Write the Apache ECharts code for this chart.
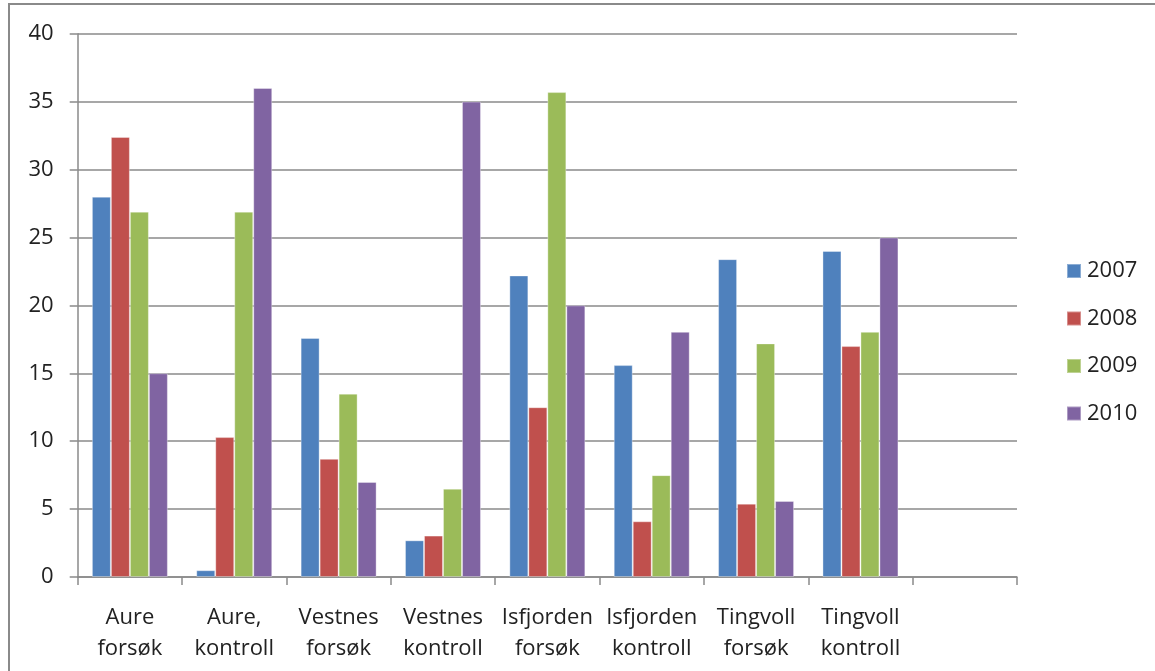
<!DOCTYPE html>
<html>
<head>
<meta charset="utf-8">
<script src="https://cdn.jsdelivr.net/npm/echarts@6/dist/echarts.min.js"></script>
<style>
html,body{margin:0;padding:0;background:#fff;}
#chart{width:1155px;height:671px;}
</style>
</head>
<body>
<div id="chart"></div>
<script>
const categories = ['Aure\nforsøk', 'Aure,\nkontroll', 'Vestnes\nforsøk', 'Vestnes\nkontroll', 'Isfjorden\nforsøk', 'Isfjorden\nkontroll', 'Tingvoll\nforsøk', 'Tingvoll\nkontroll', ''];
const seriesNames = ['2007', '2008', '2009', '2010'];
const v2007 = [28, 0.5, 17.6, 2.7, 22.2, 15.6, 23.4, 24.0, null];
const v2008 = [32.4, 10.3, 8.7, 3.05, 12.5, 4.1, 5.4, 17.0, null];
const v2009 = [26.9, 26.9, 13.5, 6.5, 35.7, 7.5, 17.2, 18.05, null];
const v2010 = [15.0, 36.0, 7.0, 35.0, 20.0, 18.05, 5.6, 25.0, null];
const yTicks = [0, 5, 10, 15, 20, 25, 30, 35, 40];
const colors = ['#4F81BD', '#C0504D', '#9BBB59', '#8064A2'];

const FONT = 'Open Sans';
const chart = echarts.init(document.getElementById('chart'), null, {renderer: 'canvas'});
const values = [v2007, v2008, v2009, v2010];
chart.setOption({
  animation: false,
  backgroundColor: '#ffffff',
  color: colors,
  graphic: [{
    type: 'polyline',
    shape: {points: [[9, 671], [9, 4], [1155, 4]]},
    style: {stroke: '#8a8a8a', lineWidth: 2, fill: null},
    silent: true
  }],
  grid: {left: 77.7, right: 138, top: 33.7, bottom: 94, containLabel: false},
  legend: {
    orient: 'vertical',
    left: 1061,
    top: 255,
    itemWidth: 14,
    itemHeight: 14,
    itemGap: 25.5,
    icon: 'rect',
    data: seriesNames,
    textStyle: {fontFamily: FONT, fontSize: 22, color: '#222', lineHeight: 22, padding: [0, 0, 0, 1]}
  },
  xAxis: {
    type: 'category',
    data: categories,
    boundaryGap: true,
    axisLine: {show: true, lineStyle: {color: '#8a8a8a', width: 1.5}},
    axisTick: {show: true, length: 8, interval: 0, lineStyle: {color: '#8a8a8a', width: 1.5}},
    axisLabel: {interval: 0, margin: 25, fontFamily: FONT, fontSize: 22, color: '#222', lineHeight: 31}
  },
  yAxis: {
    type: 'value',
    min: yTicks[0],
    max: yTicks[yTicks.length - 1],
    interval: 5,
    axisLine: {show: true, lineStyle: {color: '#8a8a8a', width: 1.5}},
    axisTick: {show: true, length: 8, lineStyle: {color: '#8a8a8a', width: 1.5}},
    splitLine: {show: true, lineStyle: {color: '#8a8a8a', width: 1.5}},
    axisLabel: {margin: 24, fontFamily: FONT, fontSize: 22, color: '#222'}
  },
  series: seriesNames.map((n, i) => ({
    name: n,
    type: 'bar',
    data: values[i],
    barGap: '0%',
    barCategoryGap: '27.2%',
    itemStyle: {color: colors[i], borderColor: 'rgba(255,255,255,0.35)', borderWidth: 1}
  }))
});
</script>
</body>
</html>
